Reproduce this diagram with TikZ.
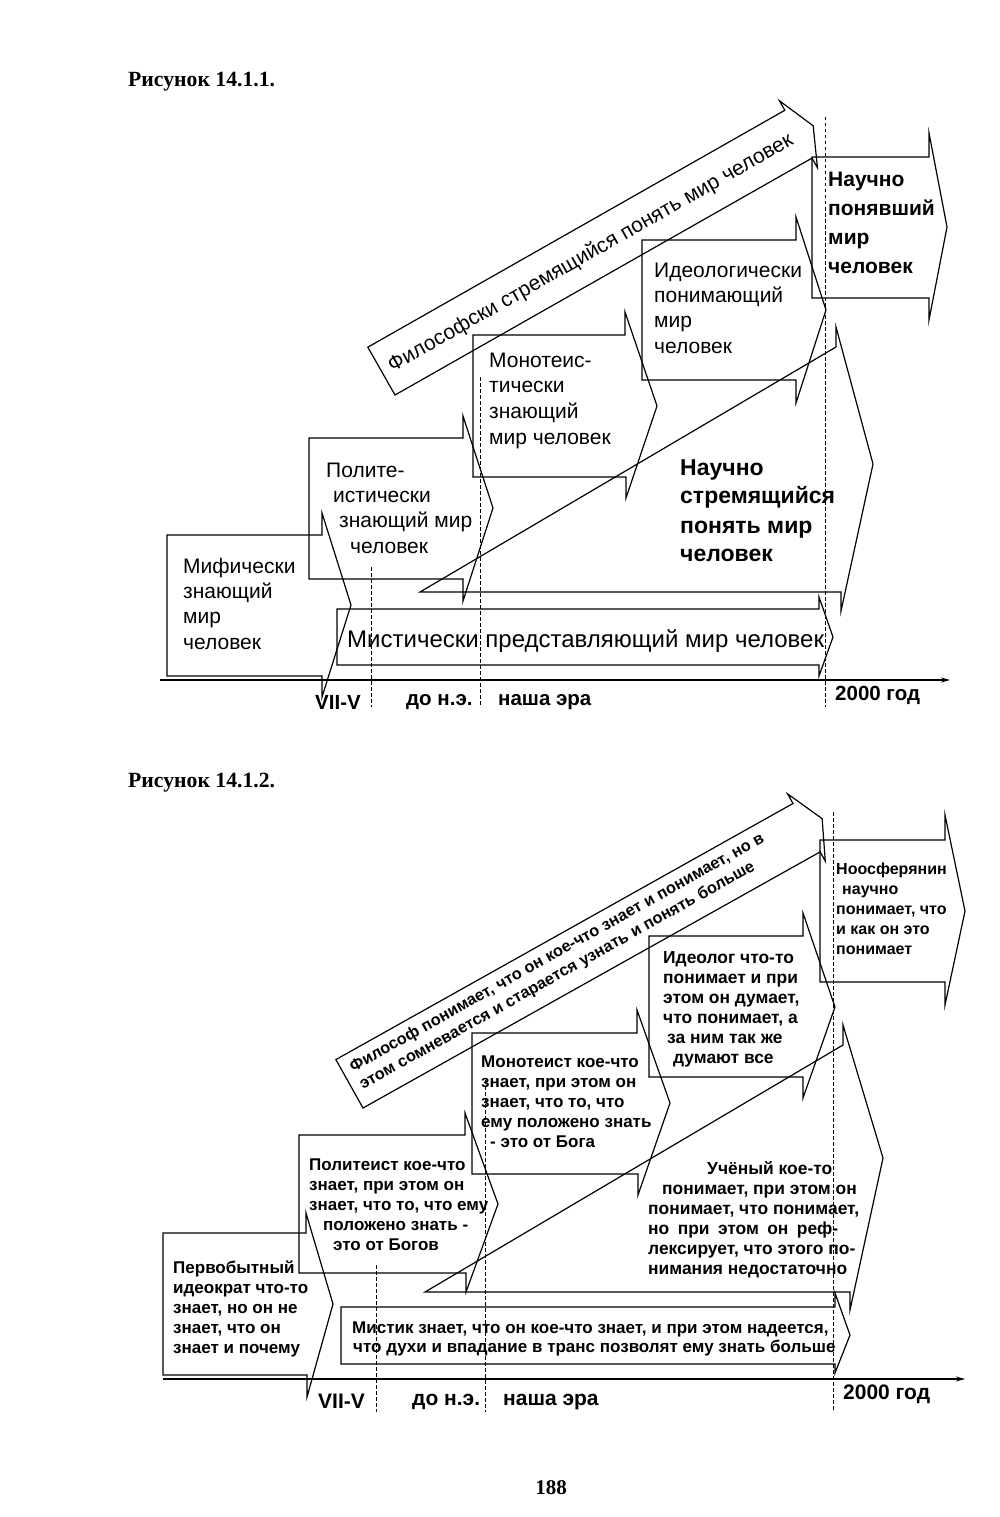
\documentclass[tikz,border=0pt]{standalone}
\usepackage{fontspec}
\setmainfont{Liberation Serif}
\newfontfamily\sansf{Liberation Sans}
\usetikzlibrary{arrows.meta}
\begin{document}
\begin{tikzpicture}[x=1pt,y=-1pt,
  shp/.style={draw, line width=1.2pt, line join=miter, miter limit=20},
  vdash/.style={draw, line width=0.8pt, dash pattern=on 3.5pt off 2.5pt},
  axisln/.style={draw, line width=1.4pt, -{Stealth[length=9pt,width=5pt]}},
  ta/.style={inner sep=0pt, anchor=base west, font=\sansf\fontsize{21}{25}\selectfont},
  tb/.style={inner sep=0pt, anchor=base west, font=\sansf\bfseries\fontsize{21}{25}\selectfont},
  tc/.style={inner sep=0pt, anchor=base west, font=\sansf\bfseries\fontsize{23}{27}\selectfont},
  tm/.style={inner sep=0pt, anchor=base west, font=\sansf\fontsize{24}{28}\selectfont},
  tl/.style={inner sep=0pt, anchor=base west, font=\sansf\bfseries\fontsize{20.5}{24}\selectfont},
  tl2/.style={inner sep=0pt, anchor=base west, font=\sansf\bfseries\fontsize{21}{24}\selectfont},
  tt/.style={inner sep=0pt, anchor=base west, font=\sansf\bfseries\fontsize{17}{20}\selectfont},
  tn/.style={inner sep=0pt, anchor=base west, font=\sansf\bfseries\fontsize{16}{20}\selectfont},
  tw/.style={inner sep=0pt, anchor=base west, font=\sansf\bfseries\fontsize{17.4}{20}\selectfont},
  rw1/.style={inner sep=0pt, anchor=base west, rotate=29.6, font=\sansf\fontsize{21}{25}\selectfont},
  rw2/.style={inner sep=0pt, anchor=base west, rotate=29.26, font=\sansf\bfseries\fontsize{16.3}{20}\selectfont},
  capt/.style={inner sep=0pt, anchor=base west, font=\bfseries\fontsize{21.7}{25}\selectfont}
]
\useasboundingbox[fill=white] (0,0) rectangle (1000,1517);

% ================= Figure 14.1.1 =================
\node[capt] (cap1) at (128,87) {Рисунок 14.1.1.};

% axis and dashed lines
\coordinate (ax1s) at (160,680);
\coordinate (ax1e) at (950,680);
\draw[axisln] (ax1s) -- (ax1e);
\draw[vdash] (371,567) -- (371,707);
\draw[vdash] (480,377) -- (480,707);
\draw[vdash] (825,117) -- (825,707);

% B1 mythic
\draw[shp] (167,535) -- (322,535) -- (322,513) -- (351,605) -- (322,697) -- (322,676) -- (167,676) -- cycle;
\node[ta] (b1a) at (183,573) {Мифически};
\node[ta] (b1b) at (183,598) {знающий};
\node[ta] (b1c) at (183,623) {мир};
\node[ta] (b1d) at (183,649) {человек};

% B2 polytheistic
\draw[shp] (309,438) -- (463,438) -- (463,416) -- (493,508) -- (463,601) -- (463,579) -- (309,579) -- cycle;
\node[ta] (b2a) at (326,477) {Полите-};
\node[ta] (b2b) at (333,502) {истически};
\node[ta] (b2c) at (339,527) {знающий мир};
\node[ta] (b2d) at (350,553) {человек};

% B3 monotheistic
\draw[shp] (473,335) -- (625,335) -- (625,312) -- (657,406) -- (626,498) -- (626,477) -- (473,477) -- cycle;
\node[ta] (b3a) at (489,367) {Монотеис-};
\node[ta] (b3b) at (489,392) {тически};
\node[ta] (b3c) at (489,418) {знающий};
\node[ta] (b3d) at (489,444) {мир человек};

% B4 ideological
\draw[shp] (642,240) -- (796,240) -- (796,217) -- (826,310) -- (796,403) -- (796,380) -- (642,380) -- cycle;
\node[ta] (b4a) at (654,277) {Идеологически};
\node[ta] (b4b) at (654,302) {понимающий};
\node[ta] (b4c) at (654,327) {мир};
\node[ta] (b4d) at (654,353) {человек};

% B5 scientifically understood
\draw[shp] (812,157) -- (929,157) -- (929,133) -- (947,227) -- (929,320) -- (929,298) -- (812,298) -- cycle;
\node[tb] (b5a) at (828,187) {Научно};
\node[tb] (b5b) at (828,215) {понявший};
\node[tb] (b5c) at (828,244) {мир};
\node[tb] (b5d) at (828,273) {человек};

% B6 mystical
\draw[shp] (337,609) -- (819,609) -- (819,597) -- (833,637) -- (819,676) -- (819,665) -- (337,665) -- cycle;
\node[tm] (b6a) at (347,647) {Мистически представляющий мир человек};

% B7 scientifically striving
\draw[shp] (420,592) -- (836,347) -- (836,327) -- (873,464) -- (841,611) -- (841,592) -- cycle;
\node[tc] (b7a) at (680,475) {Научно};
\node[tc] (b7b) at (680,503) {стремящийся};
\node[tc] (b7c) at (680,533) {понять мир};
\node[tc] (b7d) at (680,561) {человек};

% B8 philosophical (rotated)
\begin{scope}[shift={(395,395)}, rotate=29.6]
  \draw[shp] (0,0) -- (0,-55) -- (479.6,-55) -- (479.6,-66) -- (496.6,-27.5) -- (479.6,11) -- (479.6,0) -- cycle;
  \node[rw1] (b8a) at (9,-21) {Философски\ \null};
  \node[rw1] (b8b) at (b8a.base east) {стремящийся\ \null};
  \node[rw1] (b8c) at (b8b.base east) {понять\ \null};
  \node[rw1] (b8d) at (b8c.base east) {мир\ \null};
  \node[rw1] (b8e) at (b8d.base east) {человек};
\end{scope}

% axis labels
\node[tl] (l1a) at (315,709) {VII-V};
\node[tl] (l1b) at (406,705) {до н.э.};
\node[tl] (l1c) at (498,705) {наша эра};
\node[tl] (l1d) at (835,700) {2000 год};

% ================= Figure 14.1.2 =================
\node[capt] (cap2) at (128,787) {Рисунок 14.1.2.};

\coordinate (ax2s) at (163,1379);
\coordinate (ax2e) at (965,1379);
\draw[axisln] (ax2s) -- (ax2e);
\draw[vdash] (376,1265) -- (376,1412);
\draw[vdash] (485,1080) -- (485,1412);
\draw[vdash] (833,812) -- (833,1412);

% P1 primitive
\draw[shp] (163,1233) -- (306,1233) -- (306,1213) -- (333,1304) -- (307,1397) -- (307,1375) -- (163,1375) -- cycle;
\node[tt] (p1a) at (173,1273) {Первобытный};
\node[tt] (p1b) at (173,1293) {идеократ что-то};
\node[tt] (p1c) at (173,1313) {знает, но он не};
\node[tt] (p1d) at (173,1333) {знает, что он};
\node[tt] (p1e) at (173,1353) {знает и почему};

% P2 polytheist
\draw[shp] (299,1135) -- (465,1135) -- (465,1113) -- (498,1204) -- (466,1292) -- (466,1273) -- (299,1273) -- cycle;
\node[tt] (p2a) at (309,1170) {Политеист кое-что};
\node[tt] (p2b) at (309,1190) {знает, при этом он};
\node[tt] (p2c) at (309,1210) {знает, что то, что ему};
\node[tt] (p2d) at (323,1230) {положено знать -};
\node[tt] (p2e) at (333,1250) {это от Богов};

% P3 monotheist
\draw[shp] (472,1033) -- (637,1033) -- (637,1010) -- (670,1103) -- (638,1195) -- (638,1174) -- (472,1174) -- cycle;
\node[tt] (p3a) at (481,1067) {Монотеист кое-что};
\node[tt] (p3b) at (481,1087) {знает, при этом он};
\node[tt] (p3c) at (481,1107) {знает, что то, что};
\node[tt] (p3d) at (481,1127) {ему положено знать};
\node[tt] (p3e) at (490,1147) {- это от Бога};

% P4 ideologist
\draw[shp] (649,936) -- (803,936) -- (803,913) -- (835,1007) -- (803,1098) -- (803,1077) -- (649,1077) -- cycle;
\node[tw] (p4a) at (663,963) {Идеолог что-то};
\node[tw] (p4b) at (663,983) {понимает и при};
\node[tw] (p4c) at (663,1003) {этом он думает,};
\node[tw] (p4d) at (663,1023) {что понимает, а};
\node[tw] (p4e) at (667,1043) {за ним так же};
\node[tw] (p4f) at (673,1063) {думают все};

% P5 noospherian
\draw[shp] (820,840) -- (945,840) -- (945,815) -- (965,911) -- (945,1005) -- (945,982) -- (820,982) -- cycle;
\node[tn] (p5a) at (836,874) {Ноосферянин};
\node[tn] (p5b) at (842,894) {научно};
\node[tn] (p5c) at (836,914) {понимает, что};
\node[tn] (p5d) at (836,934) {и как он это};
\node[tn] (p5e) at (836,954) {понимает};

% P6 mystic
\draw[shp] (341,1307) -- (835,1307) -- (835,1293) -- (850,1335) -- (835,1373) -- (835,1364) -- (341,1364) -- cycle;
\node[tt] (p6a) at (352,1333) {Мистик знает, что он кое-что знает, и при этом надеется,};
\node[tt] (p6b) at (353,1352) {что духи и впадание в транс позволят ему знать больше};

% P7 scientist
\draw[shp] (425,1292) -- (843,1045) -- (843,1025) -- (883,1158) -- (850,1310) -- (850,1292) -- cycle;
\node[tw] (p7a) at (707,1174) {Учёный кое-то};
\node[tw] (p7b) at (662,1194) {понимает, при этом он};
\node[tw] (p7c) at (648,1214) {понимает, что понимает,};
\node[tw] (p7d) at (648,1234) {\makebox[190pt][s]{но при этом он реф-}};
\node[tw] (p7e) at (648,1254) {лексирует, что этого по-};
\node[tw] (p7f) at (648,1274) {нимания недостаточно};

% P8 philosopher (rotated)
\begin{scope}[shift={(363,1108)}, rotate=29.26]
  \draw[shp] (0,0) -- (0,-55.5) -- (524,-55.5) -- (524,-66.5) -- (542,-28) -- (524,10.5) -- (524,0) -- cycle;
  \node[rw2] (p8a) at (9,-36) {Философ\ \null};
  \node[rw2] (p8b) at (p8a.base east) {понимает,\ \null};
  \node[rw2] (p8c) at (p8b.base east) {что он\ \null};
  \node[rw2] (p8d) at (p8c.base east) {кое-что\ \null};
  \node[rw2] (p8e) at (p8d.base east) {знает и\ \null};
  \node[rw2] (p8f) at (p8e.base east) {понимает,\ \null};
  \node[rw2] (p8g) at (p8f.base east) {но в};
  \node[rw2] (p8h) at (9,-16) {этом\ \null};
  \node[rw2] (p8i) at (p8h.base east) {сомневается\ \null};
  \node[rw2] (p8j) at (p8i.base east) {и старается\ \null};
  \node[rw2] (p8k) at (p8j.base east) {узнать\ \null};
  \node[rw2] (p8l) at (p8k.base east) {и понять\ \null};
  \node[rw2] (p8m) at (p8l.base east) {больше};
\end{scope}

% axis labels
\node[tl2] (l2a) at (318,1408) {VII-V};
\node[tl2] (l2b) at (412,1405) {до н.э.};
\node[tl2] (l2c) at (503,1405) {наша эра};
\node[tl2] (l2d) at (843,1399) {2000 год};

% page number
\node[inner sep=0pt, anchor=base, font=\bfseries\fontsize{21}{24}\selectfont] (pg) at (551,1494) {188};
\end{tikzpicture}
\end{document}
